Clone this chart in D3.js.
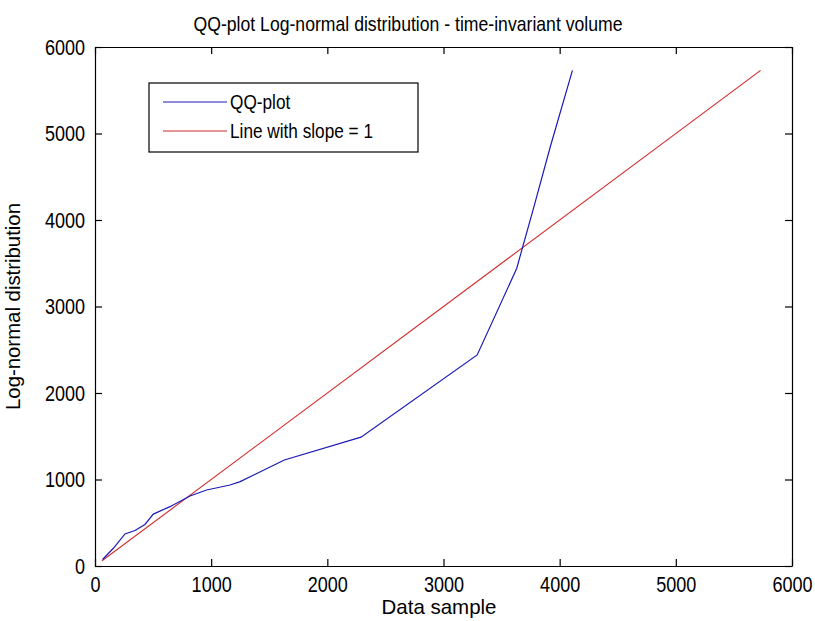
<!DOCTYPE html>
<html>
<head>
<meta charset="utf-8">
<script src="https://cdn.jsdelivr.net/npm/d3@7"></script>
<style>
  body { margin: 0; background: #fff; }
  text { font-family: "Liberation Sans", Arial, sans-serif; fill: #000; }
</style>
</head>
<body>
<svg id="qqplot" width="815" height="621"></svg>
<script>
// QQ-plot samples (data sample vs log-normal quantile)
var qqX = [65, 158, 258, 344, 430, 502, 645, 818, 961, 1162, 1250, 1630, 2290, 3290, 3630, 3780, 3920, 4110];
var qqY = [75, 205, 370, 410, 480, 600, 686, 809, 879, 936, 975, 1225, 1490, 2440, 3440, 4160, 4850, 5730];

// reference line with slope = 1
var refX = [60, 5730];
var refY = [60, 5730];

var xTicks = [0, 1000, 2000, 3000, 4000, 5000, 6000];
var yTicks = [0, 1000, 2000, 3000, 4000, 5000, 6000];

var legendLabels = ["QQ-plot", "Line with slope = 1"];
var seriesColors = ["#1a1ab8", "#d42a2a"];

var svg = d3.select("#qqplot"),
  margin = {top: 47, right: 23, bottom: 55, left: 95},
  width = +svg.attr("width") - margin.left - margin.right,
  height = +svg.attr("height") - margin.top - margin.bottom,
  g = svg.append("g").attr("transform", "translate(" + margin.left + "," + margin.top + ")");

var squeeze = 0.82; // font looks narrow, squash glyphs horizontally

var x = d3.scaleLinear().domain([0, 6000]).range([0, width]);
var y = d3.scaleLinear().domain([0, 6000]).range([height, 0]);

var line = d3.line()
  .x(function(d) { return x(d[0]); })
  .y(function(d) { return y(d[1]); });

var qqData = d3.zip(qqX, qqY);
var refData = d3.zip(refX, refY);

g.append("path")
  .datum(refData)
  .attr("fill", "none")
  .attr("stroke", seriesColors[1])
  .attr("stroke-width", 1.1)
  .attr("d", line);

g.append("path")
  .datum(qqData)
  .attr("fill", "none")
  .attr("stroke", seriesColors[0])
  .attr("stroke-width", 1.2)
  .attr("d", line);

// axes, ticks pointing inward, box on
function styleAxis(sel) {
  sel.selectAll("path.domain").attr("stroke", "#000").attr("stroke-width", 1.2);
  sel.selectAll(".tick line").attr("stroke", "#000").attr("stroke-width", 1.2);
  sel.selectAll("text").style("font-size", "22px").attr("fill", "#000");
}

var xAxis = g.append("g")
  .attr("transform", "translate(0," + height + ")")
  .call(d3.axisBottom(x).tickValues(xTicks).tickFormat(d3.format("d")).tickSize(-7).tickSizeOuter(0).tickPadding(10))
  .call(styleAxis);
xAxis.selectAll("text").attr("transform", "scale(" + squeeze + ",1)");

var yAxis = g.append("g")
  .call(d3.axisLeft(y).tickValues(yTicks).tickFormat(d3.format("d")).tickSize(-7).tickSizeOuter(0))
  .call(styleAxis);
yAxis.selectAll("text")
  .attr("x", -10 / squeeze)
  .attr("transform", "scale(" + squeeze + ",1)");

g.append("g")
  .call(d3.axisTop(x).tickValues(xTicks).tickFormat("").tickSize(-7).tickSizeOuter(0))
  .call(styleAxis);

g.append("g")
  .attr("transform", "translate(" + width + ",0)")
  .call(d3.axisRight(y).tickValues(yTicks).tickFormat("").tickSize(-7).tickSizeOuter(0))
  .call(styleAxis);

// title and axis labels
svg.append("text")
  .attr("x", 408)
  .attr("y", 31)
  .attr("text-anchor", "middle")
  .attr("textLength", 429)
  .attr("lengthAdjust", "spacingAndGlyphs")
  .style("font-size", "21px")
  .text("QQ-plot Log-normal distribution - time-invariant volume");

svg.append("text")
  .attr("x", 439)
  .attr("y", 614)
  .attr("text-anchor", "middle")
  .attr("textLength", 115)
  .attr("lengthAdjust", "spacingAndGlyphs")
  .style("font-size", "21px")
  .text("Data sample");

svg.append("text")
  .attr("transform", "translate(20," + (margin.top + height / 2) + ") rotate(-90)")
  .attr("text-anchor", "middle")
  .attr("textLength", 207)
  .attr("lengthAdjust", "spacingAndGlyphs")
  .style("font-size", "21px")
  .text("Log-normal distribution");

// legend
var legend = svg.append("g").attr("transform", "translate(149,83)");

legend.append("rect")
  .attr("width", 269)
  .attr("height", 69)
  .attr("fill", "#fff")
  .attr("stroke", "#000")
  .attr("stroke-width", 1.2);

var item = legend.selectAll(".legend")
  .data(legendLabels)
  .enter().append("g")
  .attr("class", "legend")
  .attr("transform", function(d, i) { return "translate(0," + (19 + i * 29) + ")"; });

item.append("line")
  .attr("x1", 14)
  .attr("x2", 78)
  .attr("stroke", function(d, i) { return seriesColors[i]; })
  .attr("stroke-width", 1.2);

item.append("text")
  .attr("transform", "translate(81,0) scale(" + squeeze + ",1)")
  .attr("dy", "0.35em")
  .style("font-size", "21px")
  .text(function(d) { return d; });
</script>
</body>
</html>
